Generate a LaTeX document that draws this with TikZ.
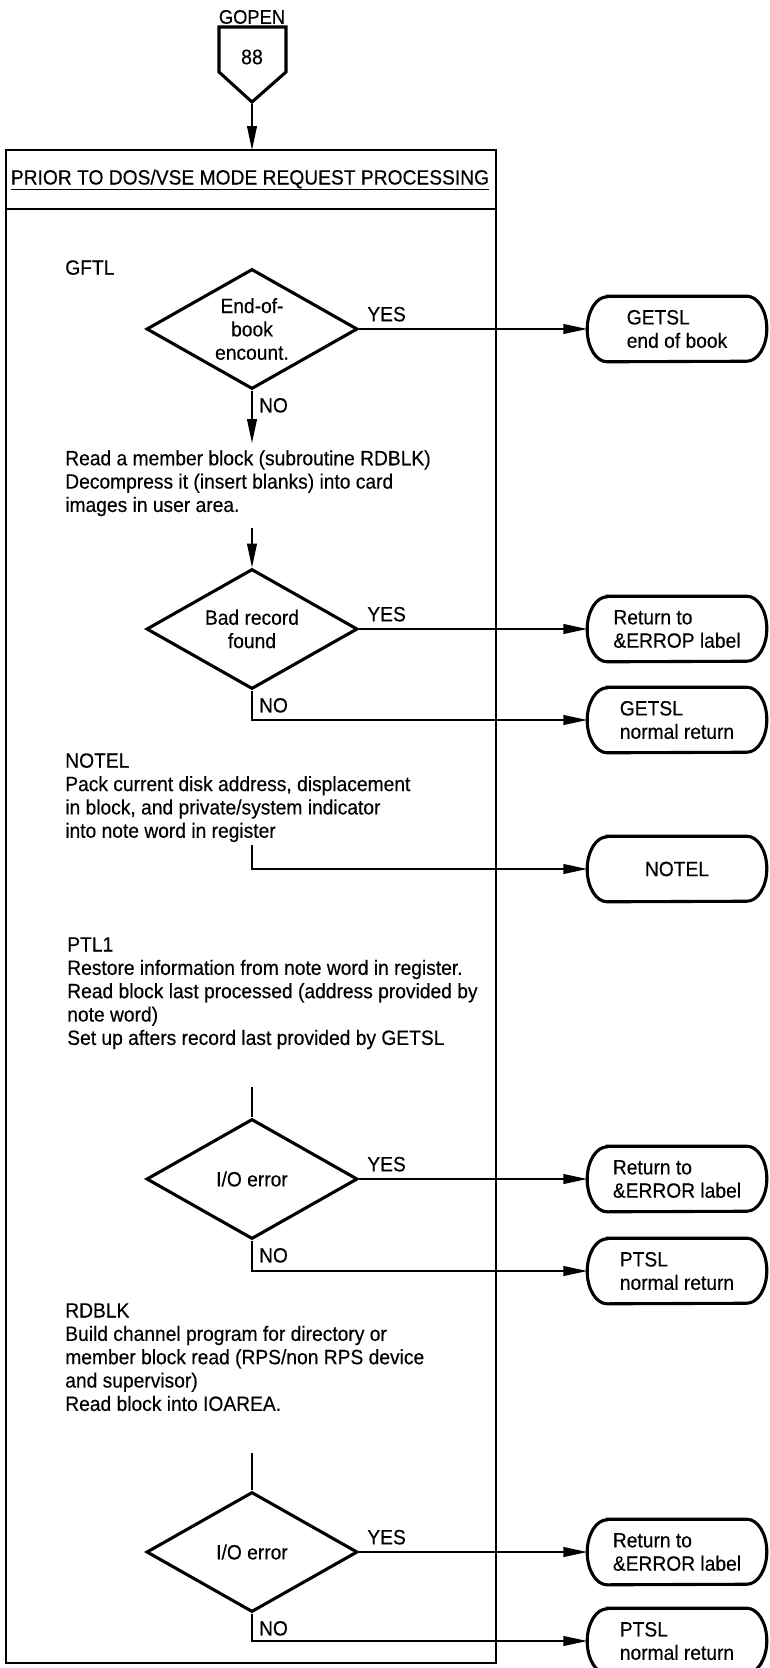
\documentclass[tikz,border=0pt]{standalone}
\usepackage{fontspec}
\setmainfont{Liberation Sans}[FakeStretch=0.93,FakeBold=0.35]
\usetikzlibrary{shapes.geometric,arrows.meta}

\tikzset{
	txt/.style={inner sep=0pt, align=left, font=\fontsize{14.7}{16.6}\selectfont},
	decision/.style={diamond, draw, line width=2.2pt, aspect=1.76, minimum width=5.275cm, minimum height=3cm, inner sep=0pt, align=center, font=\fontsize{14.7}{16.6}\selectfont},
	term/.style={minimum width=4.475cm, minimum height=1.625cm, inner sep=0pt, align=left, font=\fontsize{14.7}{16.6}\selectfont},
	flow/.style={line width=1pt},
	arr/.style={line width=1pt, -{Triangle[length=17pt,width=7pt]}},
	uline/.style={line width=0.6pt},
}

\begin{document}
\begin{tikzpicture}[x=0.025cm,y=0.025cm]
	\useasboundingbox (0,0) rectangle (769,-1668);

	% entry connector
	\node[txt, font=\fontsize{14}{15}\selectfont] (gopen) at (252,-17) {GOPEN};
	\draw[uline] ([yshift=-0.06cm]gopen.base west) -- ([yshift=-0.06cm]gopen.base east);
	\node[txt, font=\fontsize{15}{16}\selectfont] (page) at (252,-57) {88};
	\draw[line width=2.2pt] (219,-27) -- (286,-27) -- (286,-72) -- (252,-102) -- (219,-72) -- cycle;
	\coordinate (tip) at (252,-104);
	\coordinate (boxtop) at (252,-150);
	\draw[arr] (tip) -- (boxtop);

	% frame and heading
	\draw[line width=1.8pt] (6,-150) rectangle (496,-1663);
	\draw[line width=1.4pt] (6,-209) -- (496,-209);
	\node[txt] (hdr) at (250,-179) {PRIOR TO DOS/VSE MODE REQUEST PROCESSING};
	\draw[uline] ([yshift=-0.12cm]hdr.base west) -- ([yshift=-0.12cm]hdr.base east);

	% text blocks
	\node[txt, anchor=north west] (gftl) at (65,-260) {GFTL};
	\node[txt, anchor=north west] (rdmem) at (65,-450) {Read a member block (subroutine RDBLK)\\Decompress it (insert blanks) into card\\images in user area.};
	\node[txt, anchor=north west] (notelt) at (65,-753) {NOTEL\\Pack current disk address, displacement\\in block, and private/system indicator\\into note word in register};
	\node[txt, anchor=north west] (ptl) at (67,-937) {PTL1\\Restore information from note word in register.\\Read block last processed (address provided by\\note word)\\Set up afters record last provided by GETSL};
	\node[txt, anchor=north west] (rdblk) at (65,-1303) {RDBLK\\Build channel program for directory or\\member block read (RPS/non RPS device\\and supervisor)\\Read block into IOAREA.};

	% decisions
	\node[decision] (d1) at (252,-329) {End-of-\\book\\encount.};
	\node[decision] (d2) at (252,-629) {Bad record\\found};
	\node[decision] (d3) at (252,-1179) {I/O error};
	\node[decision] (d4) at (252,-1552) {I/O error};

	% exits
	\node[term] (getsl) at (677,-329) {GETSL\\end of book};
	\node[term] (errop) at (677,-629) {Return to\\\&ERROP label};
	\node[term] (getslret) at (677,-720) {GETSL\\normal return};
	\node[term] (notel) at (677,-869) {NOTEL};
	\node[term] (errora) at (677,-1179) {Return to\\\&ERROR label};
	\node[term] (ptsla) at (677,-1271) {PTSL\\normal return};
	\node[term] (errorb) at (677,-1552) {Return to\\\&ERROR label};
	\node[term] (ptslb) at (677,-1641) {PTSL\\normal return};
	\foreach \t in {getsl,errop,getslret,notel,errora,ptsla,errorb,ptslb}
		\draw[line width=2.2pt] ([xshift=0.5cm]\t.north west) -- ([xshift=-0.5cm]\t.north east)
			arc[start angle=90, end angle=-90, x radius=0.5cm, y radius=0.8125cm]
			-- ([xshift=0.5cm]\t.south west)
			arc[start angle=270, end angle=90, x radius=0.5cm, y radius=0.8125cm] -- cycle;

	% flow lines
	\coordinate (a1) at (252,-443);
	\coordinate (a2) at (252,-528);
	\coordinate (a3) at (252,-845);
	\coordinate (a4) at (252,-1087);
	\coordinate (a5) at (252,-1453);

	\draw[arr] (d1.east) -- (getsl.west);
	\draw[arr] (d1.south) -- (a1);
	\draw[arr] (a2) -- (d2.north);
	\draw[arr] (d2.east) -- (errop.west);
	\draw[arr] (d2.south) |- (getslret.west);
	\draw[arr] (a3) |- (notel.west);
	\draw[flow] (a4) -- (d3.north);
	\draw[arr] (d3.east) -- (errora.west);
	\draw[arr] (d3.south) |- (ptsla.west);
	\draw[flow] (a5) -- (d4.north);
	\draw[arr] (d4.east) -- (errorb.west);
	\draw[arr] (d4.south) |- (ptslb.west);

	% branch labels
	\node[txt, anchor=south west] (y1) at ([xshift=0.2cm,yshift=0.18cm]d1.east) {YES};
	\node[txt, anchor=south west] (y2) at ([xshift=0.2cm,yshift=0.18cm]d2.east) {YES};
	\node[txt, anchor=south west] (y3) at ([xshift=0.2cm,yshift=0.18cm]d3.east) {YES};
	\node[txt, anchor=south west] (y4) at ([xshift=0.2cm,yshift=0.18cm]d4.east) {YES};
	\node[txt, anchor=north west] (n1) at ([xshift=0.17cm,yshift=-0.18cm]d1.south) {NO};
	\node[txt, anchor=north west] (n2) at ([xshift=0.17cm,yshift=-0.18cm]d2.south) {NO};
	\node[txt, anchor=north west] (n3) at ([xshift=0.17cm,yshift=-0.18cm]d3.south) {NO};
	\node[txt, anchor=north west] (n4) at ([xshift=0.17cm,yshift=-0.18cm]d4.south) {NO};
\end{tikzpicture}
\end{document}
